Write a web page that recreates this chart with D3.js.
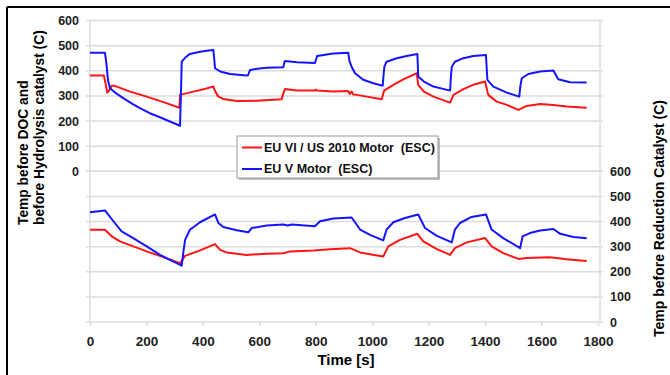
<!DOCTYPE html>
<html><head><meta charset="utf-8">
<script src="https://cdn.jsdelivr.net/npm/d3@7"></script>
<style>
body{margin:0;background:#fff;}
svg{display:block;font-family:"Liberation Sans",Arial,sans-serif;}
text{white-space:pre;}
</style></head>
<body><svg id="c" width="670" height="375"></svg>
<script>
// ---- data ----
const xTicks = [0,200,400,600,800,1000,1200,1400,1600,1800];
const yTicks = [0,100,200,300,400,500,600];
const seriesNames = ["EU VI / US 2010 Motor  (ESC)", "EU V Motor  (ESC)"];
const seriesColors = ["#ff1414", "#1414ff"];
// Temp before DOC (top panel, left axis)
const docEU6 = [[0,381],[49,381],[55,350],[61,313],[66,318],[77,340],[88,340],[142,317],[201,297],[260,275],[317,253],[319,304],[366,317],[402,326],[437,337],[445,315],[455,297],[472,288],[520,280],[591,281],[679,287],[685,310],[691,327],[733,321],[797,321],[800,325],[805,321],[862,317],[915,319],[921,308],[927,317],[933,305],[945,304],[981,297],[1034,287],[1042,321],[1075,344],[1110,366],[1158,390],[1163,344],[1183,317],[1217,297],[1276,273],[1288,304],[1323,327],[1358,344],[1400,357],[1411,304],[1441,277],[1477,264],[1518,244],[1547,260],[1595,268],[1642,264],[1689,258],[1760,253]];
const docEU5 = [[0,472],[53,472],[58,430],[64,360],[71,330],[90,312],[118,291],[150,268],[177,251],[210,232],[248,215],[285,197],[319,181],[322,300],[325,436],[340,455],[354,467],[390,476],[420,481],[437,483],[440,450],[443,410],[461,397],[496,387],[555,381],[560,382],[567,403],[600,409],[626,412],[685,414],[688,430],[691,439],[733,434],[797,431],[801,445],[805,459],[862,469],[915,472],[919,440],[927,416],[939,390],[968,364],[1004,350],[1037,340],[1040,380],[1043,416],[1051,436],[1087,450],[1122,459],[1160,467],[1163,377],[1183,357],[1217,337],[1276,321],[1279,380],[1282,416],[1293,436],[1323,450],[1358,459],[1403,463],[1408,364],[1429,337],[1477,313],[1521,297],[1525,340],[1530,370],[1553,387],[1595,397],[1642,401],[1659,366],[1701,354],[1760,353]];
// Temp before Reduction Catalyst (bottom panel, right axis)
const scrEU6 = [[0,367],[53,367],[77,341],[106,321],[201,281],[260,258],[319,234],[337,263],[390,285],[443,310],[461,287],[484,277],[555,267],[626,272],[685,274],[709,281],[792,285],[850,290],[921,294],[957,277],[992,270],[1039,261],[1057,301],[1098,327],[1160,351],[1181,321],[1229,290],[1276,267],[1293,294],[1335,317],[1400,334],[1423,301],[1464,274],[1518,251],[1547,255],[1630,258],[1689,250],[1760,243]];
const scrEU5 = [[0,437],[53,444],[83,401],[112,361],[153,334],[201,301],[248,267],[283,247],[325,224],[331,280],[337,327],[354,367],[390,397],[443,428],[455,394],[472,378],[520,365],[561,357],[573,374],[626,384],[685,388],[700,384],[715,388],[797,381],[815,401],[862,412],[927,416],[957,368],[992,347],[1039,325],[1051,368],[1075,397],[1116,414],[1163,428],[1187,374],[1229,343],[1282,317],[1293,368],[1311,394],[1352,418],[1403,428],[1423,368],[1464,334],[1524,294],[1533,341],[1559,354],[1595,364],[1642,370],[1666,351],[1713,338],[1760,333]];

// ---- drawing ----
const svg = d3.select("#c");
const L = 90, R = 598, T = 20.5, M = 171.25, B = 322;
const x = d3.scaleLinear().domain([0,1800]).range([L,R]);
const yTop = d3.scaleLinear().domain([0,600]).range([M,T]);
const yBot = d3.scaleLinear().domain([0,600]).range([B,M]);
const grid = "#dcdcdc", txt = "#222";

// frame
svg.append("line").attr("x1",7).attr("x2",670).attr("y1",7).attr("y2",7).attr("stroke","#000").attr("stroke-width",2);
svg.append("line").attr("x1",7).attr("x2",7).attr("y1",7).attr("y2",375).attr("stroke","#000").attr("stroke-width",2);

// gridlines
svg.append("g").selectAll("line").data(yTicks).join("line")
  .attr("x1",L-4).attr("x2",R+5).attr("y1",d=>yTop(d)).attr("y2",d=>yTop(d))
  .attr("stroke",grid).attr("stroke-width",1.5);
svg.append("g").selectAll("line").data(yTicks).join("line")
  .attr("x1",L-4).attr("x2",R+5).attr("y1",d=>yBot(d)).attr("y2",d=>yBot(d))
  .attr("stroke",grid).attr("stroke-width",1.5);
// axis lines
svg.append("line").attr("x1",L).attr("x2",L).attr("y1",T).attr("y2",B).attr("stroke",grid).attr("stroke-width",1.5);
svg.append("line").attr("x1",R+2).attr("x2",R+2).attr("y1",T).attr("y2",B).attr("stroke",grid).attr("stroke-width",1.5);

// left axis (top panel)
const leftAxis = d3.axisLeft(yTop).tickValues(yTicks).tickSize(0).tickPadding(11);
const gl = svg.append("g").attr("transform",`translate(${L},0)`).call(leftAxis);
gl.select(".domain").remove();
gl.selectAll("text").attr("font-size",12.5).attr("font-weight","bold").attr("fill",txt).attr("font-family","Liberation Sans, Arial, sans-serif");
// right axis (bottom panel)
const rightAxis = d3.axisRight(yBot).tickValues(yTicks).tickSize(0).tickPadding(10);
const gr = svg.append("g").attr("transform",`translate(${R+2},0)`).call(rightAxis);
gr.select(".domain").remove();
gr.selectAll("text").attr("font-size",12.5).attr("font-weight","bold").attr("fill",txt).attr("font-family","Liberation Sans, Arial, sans-serif");
// x axis
const xAxis = d3.axisBottom(x).tickValues(xTicks).tickSize(4).tickPadding(10).tickFormat(d3.format("d"));
const gx = svg.append("g").attr("transform",`translate(0,${B})`).call(xAxis);
gx.select(".domain").remove();
gx.selectAll("line").attr("stroke",grid).attr("stroke-width",1.5);
gx.selectAll("text").attr("font-size",13.5).attr("font-weight","bold").attr("fill",txt).attr("font-family","Liberation Sans, Arial, sans-serif");

// lines
const lineTop = d3.line().x(d=>x(d[0])).y(d=>yTop(d[1]));
const lineBot = d3.line().x(d=>x(d[0])).y(d=>yBot(d[1]));
const draw = (data, gen, color) => svg.append("path").datum(data).attr("d",gen)
  .attr("fill","none").attr("stroke",color).attr("stroke-width",2).attr("stroke-linejoin","round");
draw(scrEU6, lineBot, seriesColors[0]);
draw(scrEU5, lineBot, seriesColors[1]);
draw(docEU6, lineTop, seriesColors[0]);
draw(docEU5, lineTop, seriesColors[1]);

// axis titles
svg.append("text").attr("x",(L+R)/2+2).attr("y",365).attr("text-anchor","middle")
  .attr("font-size",15).attr("font-weight","bold").attr("fill","#000").text("Time [s]");
svg.append("text").attr("transform","translate(28,225) rotate(-90)").attr("text-anchor","start")
  .attr("font-size",13.8).attr("font-weight","bold").attr("fill","#000").text("Temp before DOC and");
svg.append("text").attr("transform","translate(44,225) rotate(-90)").attr("text-anchor","start")
  .attr("font-size",13.8).attr("font-weight","bold").attr("fill","#000").text("before Hydrolysis catalyst (C)");
svg.append("text").attr("transform","translate(664,337) rotate(-90)").attr("text-anchor","start")
  .attr("font-size",14).attr("font-weight","bold").attr("fill","#000").text("Temp before Reduction Catalyst (C)");

// legend
const lg = svg.append("g");
lg.append("rect").attr("x",239).attr("y",138).attr("width",201).attr("height",42).attr("fill","#bbb");
lg.append("rect").attr("x",237).attr("y",136).attr("width",201).attr("height",42).attr("fill","#fff").attr("stroke","#999").attr("stroke-width",1);
seriesNames.forEach((n,i)=>{
  const yy = 147.5 + i*21.5;
  lg.append("line").attr("x1",242).attr("x2",262).attr("y1",yy).attr("y2",yy).attr("stroke",seriesColors[i]).attr("stroke-width",2);
  lg.append("text").attr("x",264).attr("y",yy+4.3).attr("font-size",12.5).attr("font-weight","bold").attr("fill","#111").text(n);
});
</script></body></html>
